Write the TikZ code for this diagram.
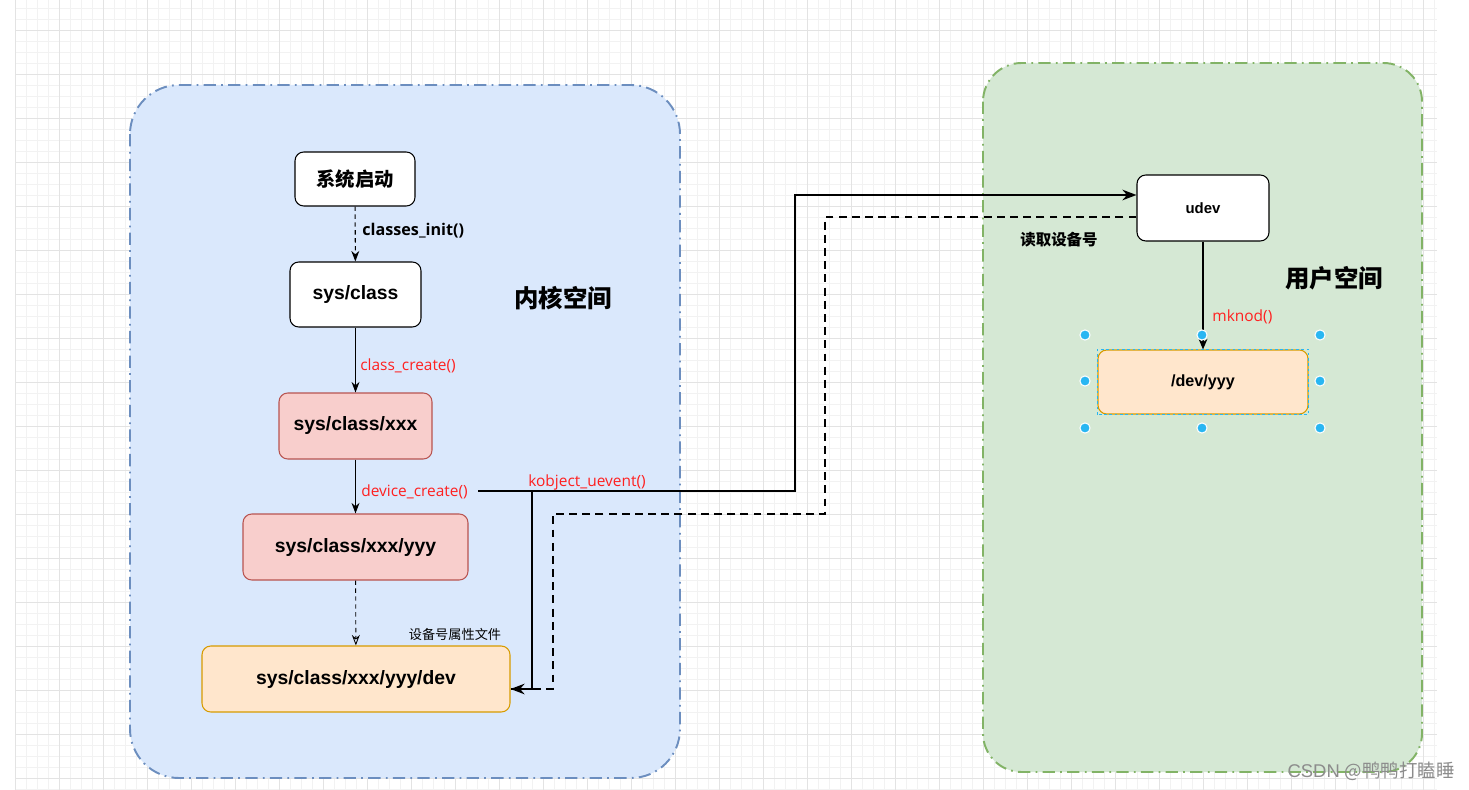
\documentclass[tikz,border=0pt]{standalone}
\usepackage{fontspec}
\setmainfont{Liberation Sans}
\newfontfamily\cjk{Noto Sans CJK SC}
\newfontfamily\lbl{Open Sans}
\usepackage{tikz}
\usetikzlibrary{arrows.meta,positioning,calc}

\definecolor{blueFill}{HTML}{DAE8FC}
\definecolor{blueLine}{HTML}{6C8EBF}
\definecolor{greenFill}{HTML}{D5E8D4}
\definecolor{greenLine}{HTML}{82B366}
\definecolor{redFill}{HTML}{F8CECC}
\definecolor{redLine}{HTML}{B85450}
\definecolor{orangeFill}{HTML}{FFE6CC}
\definecolor{orangeLine}{HTML}{D79B00}
\definecolor{selBlue}{HTML}{29B6F2}
\definecolor{fnRed}{HTML}{FF2020}

\tikzset{
  gridminor/.style={draw=black!5, line width=0.4pt},
  gridmajor/.style={draw=black!11, line width=0.5pt},
  space/.style={rounded corners=#1, line width=1.1pt,
    dash pattern=on 7pt off 3pt on 1pt off 3pt},
  box/.style={draw, rounded corners=5pt, line width=0.6pt, inner sep=0pt,
    font=\bfseries\fontsize{11}{13}\selectfont},
  whitebox/.style={box, fill=white},
  redbox/.style={box, fill=redFill, draw=redLine},
  orangebox/.style={box, fill=orangeFill, draw=orangeLine},
  flow/.style={line width=0.6pt, -{Stealth[length=6pt,width=4.5pt]}},
  flowdash/.style={flow, dash pattern=on 2.5pt off 2pt},
  bigflow/.style={line width=1.2pt},
  bigdash/.style={line width=1.2pt, dash pattern=on 4.5pt off 3pt},
  fnlabel/.style={font=\lbl\fontsize{8.8}{10}\selectfont, text=fnRed, inner sep=0pt},
  blacklabel/.style={font=\lbl\bfseries\fontsize{9.2}{11}\selectfont, inner sep=0pt},
  handle/.style={fill=selBlue, draw=white, line width=0.6pt},
}

\begin{document}
\begin{tikzpicture}[x=0.02cm, y=-0.02cm]
    \useasboundingbox[fill=white] (0,0) rectangle (1469,790);

    % grid
    \foreach \gx in {15,26,...,1434} \draw[gridminor] (\gx,0) -- (\gx,790);
    \foreach \gy in {8,19,...,789} \draw[gridminor] (15,\gy) -- (1437,\gy);
    \foreach \gx in {15,59,...,1423} \draw[gridmajor] (\gx,0) -- (\gx,790);
    \foreach \gy in {30,74,...,778} \draw[gridmajor] (15,\gy) -- (1437,\gy);

    % kernel space
    \draw[space=28pt, fill=blueFill, draw=blueLine] (130,85) rectangle (680,778);
    \node[font=\cjk\bfseries\fontsize{13.9}{16}\selectfont] (kernel) at (563,298) {内核空间};

    % user space
    \draw[space=22pt, fill=greenFill, draw=greenLine] (983,63) rectangle (1422,772);
    \node[font=\cjk\bfseries\fontsize{13.9}{16}\selectfont] (user) at (1334,278) {用户空间};

    % kernel nodes
    \node[whitebox, minimum width=120*0.02cm, minimum height=54*0.02cm,
      font=\cjk\bfseries\fontsize{11}{13}\selectfont] (boot) at (355,179) {系统启动};
    \node[whitebox, minimum width=131*0.02cm, minimum height=65*0.02cm] (cls) at (355.5,294.5) {sys/class};
    \node[redbox, minimum width=153*0.02cm, minimum height=66*0.02cm] (clsx) at (355.5,426) {sys/class/xxx};
    \node[redbox, minimum width=225*0.02cm, minimum height=66*0.02cm] (clsxy) at (355.5,547) {sys/class/xxx/yyy};
    \node[orangebox, minimum width=308*0.02cm, minimum height=66*0.02cm] (devf) at (356,679) {sys/class/xxx/yyy/dev};

    % user nodes
    \node[whitebox, minimum width=132*0.02cm, minimum height=66*0.02cm,
      font=\bfseries\fontsize{8.5}{10}\selectfont] (udev) at (1203,208) {udev};
    \node[orangebox, minimum width=210*0.02cm, minimum height=64*0.02cm,
      font=\bfseries\fontsize{9.2}{11}\selectfont] (devyyy) at (1203,382) {/dev/yyy};
    \draw[selBlue, line width=0.4pt, dash pattern=on 1.5pt off 1.5pt]
      (devyyy.south west) rectangle (devyyy.north east);

    % kernel flow
    \draw[flowdash] (boot) -- (cls);
    \node[blacklabel, anchor=west] (initlbl) at (362,231) {classes\_init()};
    \draw[flow] (cls) -- (clsx);
    \node[fnlabel, anchor=west] (createlbl) at (360,366) {class\_create()};
    \draw[flow] (clsx) -- (clsxy);
    \node[fnlabel, anchor=west] (devcreatelbl) at (361,492) {device\_create()};
    \draw[line width=0.5pt, dash pattern=on 2.5pt off 2pt, -{Stealth[open,length=6pt,width=4.5pt]}]
      (clsxy) -- (devf);
    \node[font=\cjk\fontsize{7.5}{9}\selectfont, inner sep=0pt] (attrlbl) at (455,634) {设备号属性文件};

    % uevent to udev and back
    \coordinate (ke) at (478,491);
    \coordinate (kb) at (532,491);
    \coordinate (arr) at ($(devf.east)+(0,10)$);
    \draw[bigflow, -{Stealth[length=8pt,width=6pt]}] (ke) -- (795,491) |- ($(udev.west)+(0,-13)$);
    \node[fnlabel] (ueventlbl) at (587,482) {kobject\_uevent()};
    \draw[line width=0.7pt] (kb) |- (arr);
    \draw[bigdash] ($(udev.west)+(0,9)$) -| (825,514) -| (553,689) -- (arr);
    \draw[line width=1.2pt, -{Stealth[length=8pt,width=6pt]}] ($(arr)+(6,0)$) -- (arr);
    \node[font=\cjk\bfseries\fontsize{8.8}{10}\selectfont, inner sep=0pt] (readlbl) at (1059,240) {读取设备号};

    % user flow
    \draw[line width=1pt, -{Stealth[length=6pt,width=5pt]}] (udev) -- (devyyy);
    \node[fnlabel, anchor=west] (mknodlbl) at (1212,317) {mknod()};

    % selection handles
    \foreach \hx/\hy in {1085/335,1202/335,1320/335,1085/381,1320/381,1085/428,1202/428,1320/428}
      \filldraw[handle] (\hx,\hy) circle (2.9pt);

    % watermark
    \node[anchor=east, text=black!45, inner sep=0pt, font=\fontsize{10.5}{12}\selectfont] (wm) at (1455,771) {CSDN {\cjk @鸭鸭打瞌睡}};
\end{tikzpicture}
\end{document}
